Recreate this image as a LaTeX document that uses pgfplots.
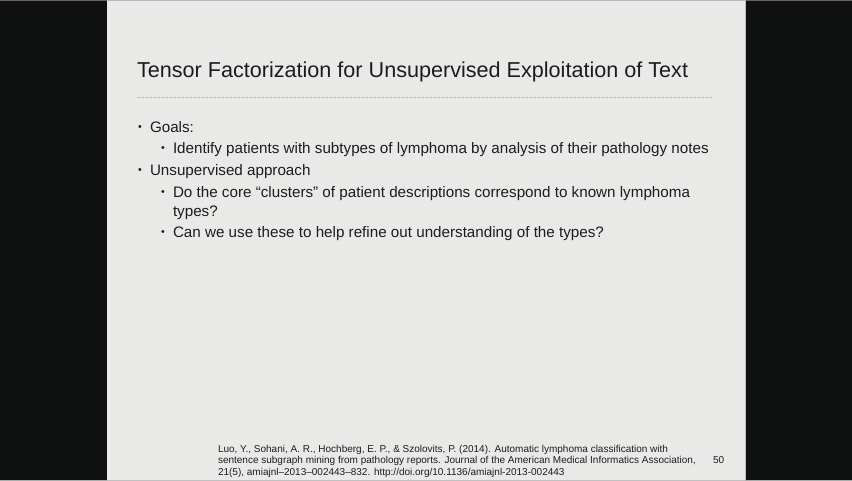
\documentclass[border=0pt]{standalone}
\usepackage{fontspec}
\setmainfont{Liberation Sans}
\usepackage{pgfplots}
\pgfplotsset{compat=1.18}
\definecolor{frame}{HTML}{0F1110}
\definecolor{slide}{HTML}{E9EAE8}
\definecolor{ink}{HTML}{1C1C1C}
\newcommand{\bul}{{\raisebox{0.1em}{\scalebox{0.7}{\textbullet}}}}
\tikzset{txt/.style={inner sep=0pt,outer sep=0pt,anchor=base west,text=ink}}
\begin{document}
\begin{tikzpicture}
\begin{axis}[width=852pt,height=480pt,scale only axis,
  xmin=0,xmax=852,ymin=0,ymax=480,y dir=reverse,
  axis lines=none,clip=false]
\addplot[fill=frame,draw=none] coordinates {(0,0)(852,0)(852,480)(0,480)(0,0)};
\addplot[fill=slide,draw=none] coordinates {(107,0)(745,0)(745,480)(107,480)(107,0)};
\addplot[color=black!25,line width=0.8pt] coordinates {(745,0)(745,480)};
\addplot[densely dotted,color=black!30,line width=0.6pt] coordinates {(137,97)(713,97)};
\node[txt] at (axis cs:137,77) {\fontsize{21.6}{25}\selectfont Tensor Factorization for Unsupervised Exploitation of Text};
% body
\node[txt] at (axis cs:138,132) {\fontsize{15.2}{18}\selectfont\bul};
\node[txt] at (axis cs:150,132) {\fontsize{15.2}{18}\selectfont Goals:};
\node[txt] at (axis cs:161,153) {\fontsize{15.2}{18}\selectfont\bul};
\node[txt] at (axis cs:173,153) {\fontsize{15.2}{18}\selectfont Identify patients with subtypes of lymphoma by analysis of their pathology notes};
\node[txt] at (axis cs:138,175) {\fontsize{15.2}{18}\selectfont\bul};
\node[txt] at (axis cs:150,175) {\fontsize{15.2}{18}\selectfont Unsupervised approach};
\node[txt] at (axis cs:161,197) {\fontsize{15.2}{18}\selectfont\bul};
\node[txt] at (axis cs:173,197) {\fontsize{15.2}{18}\selectfont Do the core “clusters” of patient descriptions correspond to known lymphoma};
\node[txt] at (axis cs:173,216) {\fontsize{15.2}{18}\selectfont types?};
\node[txt] at (axis cs:161,237) {\fontsize{15.2}{18}\selectfont\bul};
\node[txt] at (axis cs:173,237) {\fontsize{15.2}{18}\selectfont Can we use these to help refine out understanding of the types?};
% footnote
\node[txt] at (axis cs:218,452) {\fontsize{10}{11}\selectfont Luo, Y., Sohani, A. R., Hochberg, E. P., \& Szolovits, P. (2014). Automatic lymphoma classification with};
\node[txt] at (axis cs:218,463.5) {\fontsize{10}{11}\selectfont sentence subgraph mining from pathology reports. Journal of the American Medical Informatics Association,};
\node[txt] at (axis cs:218,475) {\fontsize{10}{11}\selectfont 21(5), amiajnl--2013--002443--832. http://doi.org/10.1136/amiajnl-2013-002443};
\node[txt] at (axis cs:713,463.5) {\fontsize{10}{11}\selectfont 50};
\end{axis}
\end{tikzpicture}
\end{document}
